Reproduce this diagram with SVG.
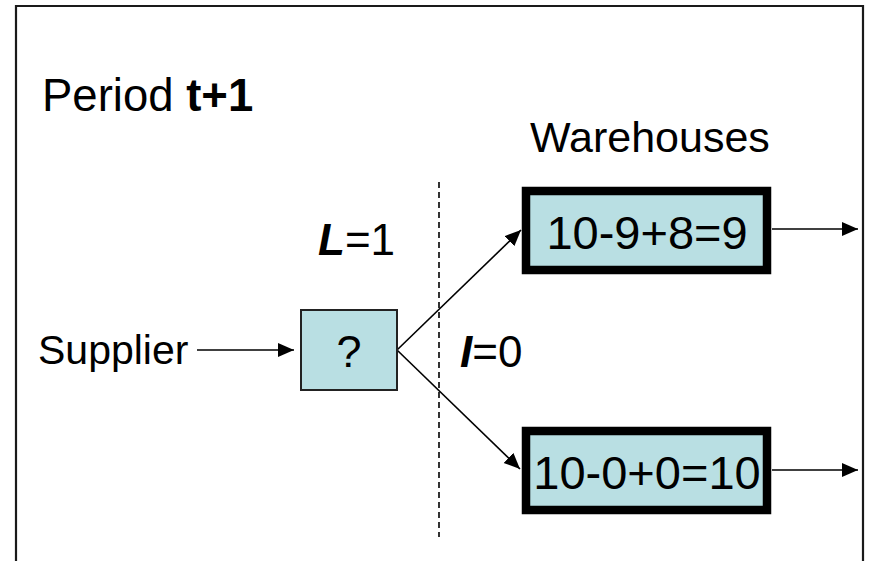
<svg xmlns="http://www.w3.org/2000/svg" width="870" height="561" viewBox="0 0 870 561">
  <style>
    text { font-family: "Liberation Sans", Arial, sans-serif; fill: #000; }
    .lbl { font-size: 44px; }
    .num { font-size: 47px; text-anchor: middle; }
    .wh { fill: #b9dfe3; stroke: #000; stroke-width: 8.5; }
    .src { fill: #b9dfe3; stroke: #222; stroke-width: 2; }
    .edge { stroke: #000; stroke-width: 1.6; fill: none; marker-end: url(#head); }
  </style>
  <defs>
    <marker id="head" markerUnits="userSpaceOnUse" markerWidth="17" markerHeight="15" refX="16" refY="7" orient="auto">
      <path d="M0,0 L16,7 L0,14 Z" fill="#000"/>
    </marker>
  </defs>

  <rect width="870" height="561" fill="#fff"/>
  <!-- outer frame, open at the bottom -->
  <path d="M16,565 V6 H863 V565" fill="none" stroke="#1a1a1a" stroke-width="2.2"/>

  <text id="title" class="lbl" x="42" y="111" style="font-size:45.5px">Period <tspan font-weight="bold">t+1</tspan></text>
  <text id="warehouses-label" class="lbl" x="530" y="152" style="font-size:43px">Warehouses</text>
  <text id="lead-time" class="lbl" x="318" y="255"><tspan font-weight="bold" font-style="italic">L</tspan>=1</text>
  <text id="info-delay" class="lbl" x="460" y="367"><tspan font-weight="bold" font-style="italic">I</tspan>=0</text>

  <!-- period boundary -->
  <line x1="439" y1="182" x2="439" y2="537" stroke="#000" stroke-width="1.6" stroke-dasharray="6,4"/>

  <g id="connectors">
    <line class="edge" x1="197" y1="350" x2="294" y2="350"/>
    <line class="edge" x1="397" y1="350" x2="521" y2="230"/>
    <line class="edge" x1="397" y1="350" x2="520" y2="469"/>
    <line class="edge" x1="772" y1="229" x2="858" y2="229"/>
    <line class="edge" x1="772" y1="470" x2="858" y2="470"/>
  </g>

  <g id="supplier">
    <text class="lbl" x="38" y="364" style="font-size:41px">Supplier</text>
  </g>

  <g id="retailer">
    <rect class="src" x="301" y="310" width="96" height="80"/>
    <text class="lbl" x="349" y="367" text-anchor="middle" style="font-size:45px">?</text>
  </g>

  <g id="warehouse-1">
    <rect class="wh" x="526" y="191" width="241" height="79"/>
    <text class="num" x="647" y="249">10-9+8=9</text>
  </g>

  <g id="warehouse-2">
    <rect class="wh" x="526" y="431" width="241" height="79"/>
    <text class="num" x="647" y="489">10-0+0=10</text>
  </g>
</svg>
